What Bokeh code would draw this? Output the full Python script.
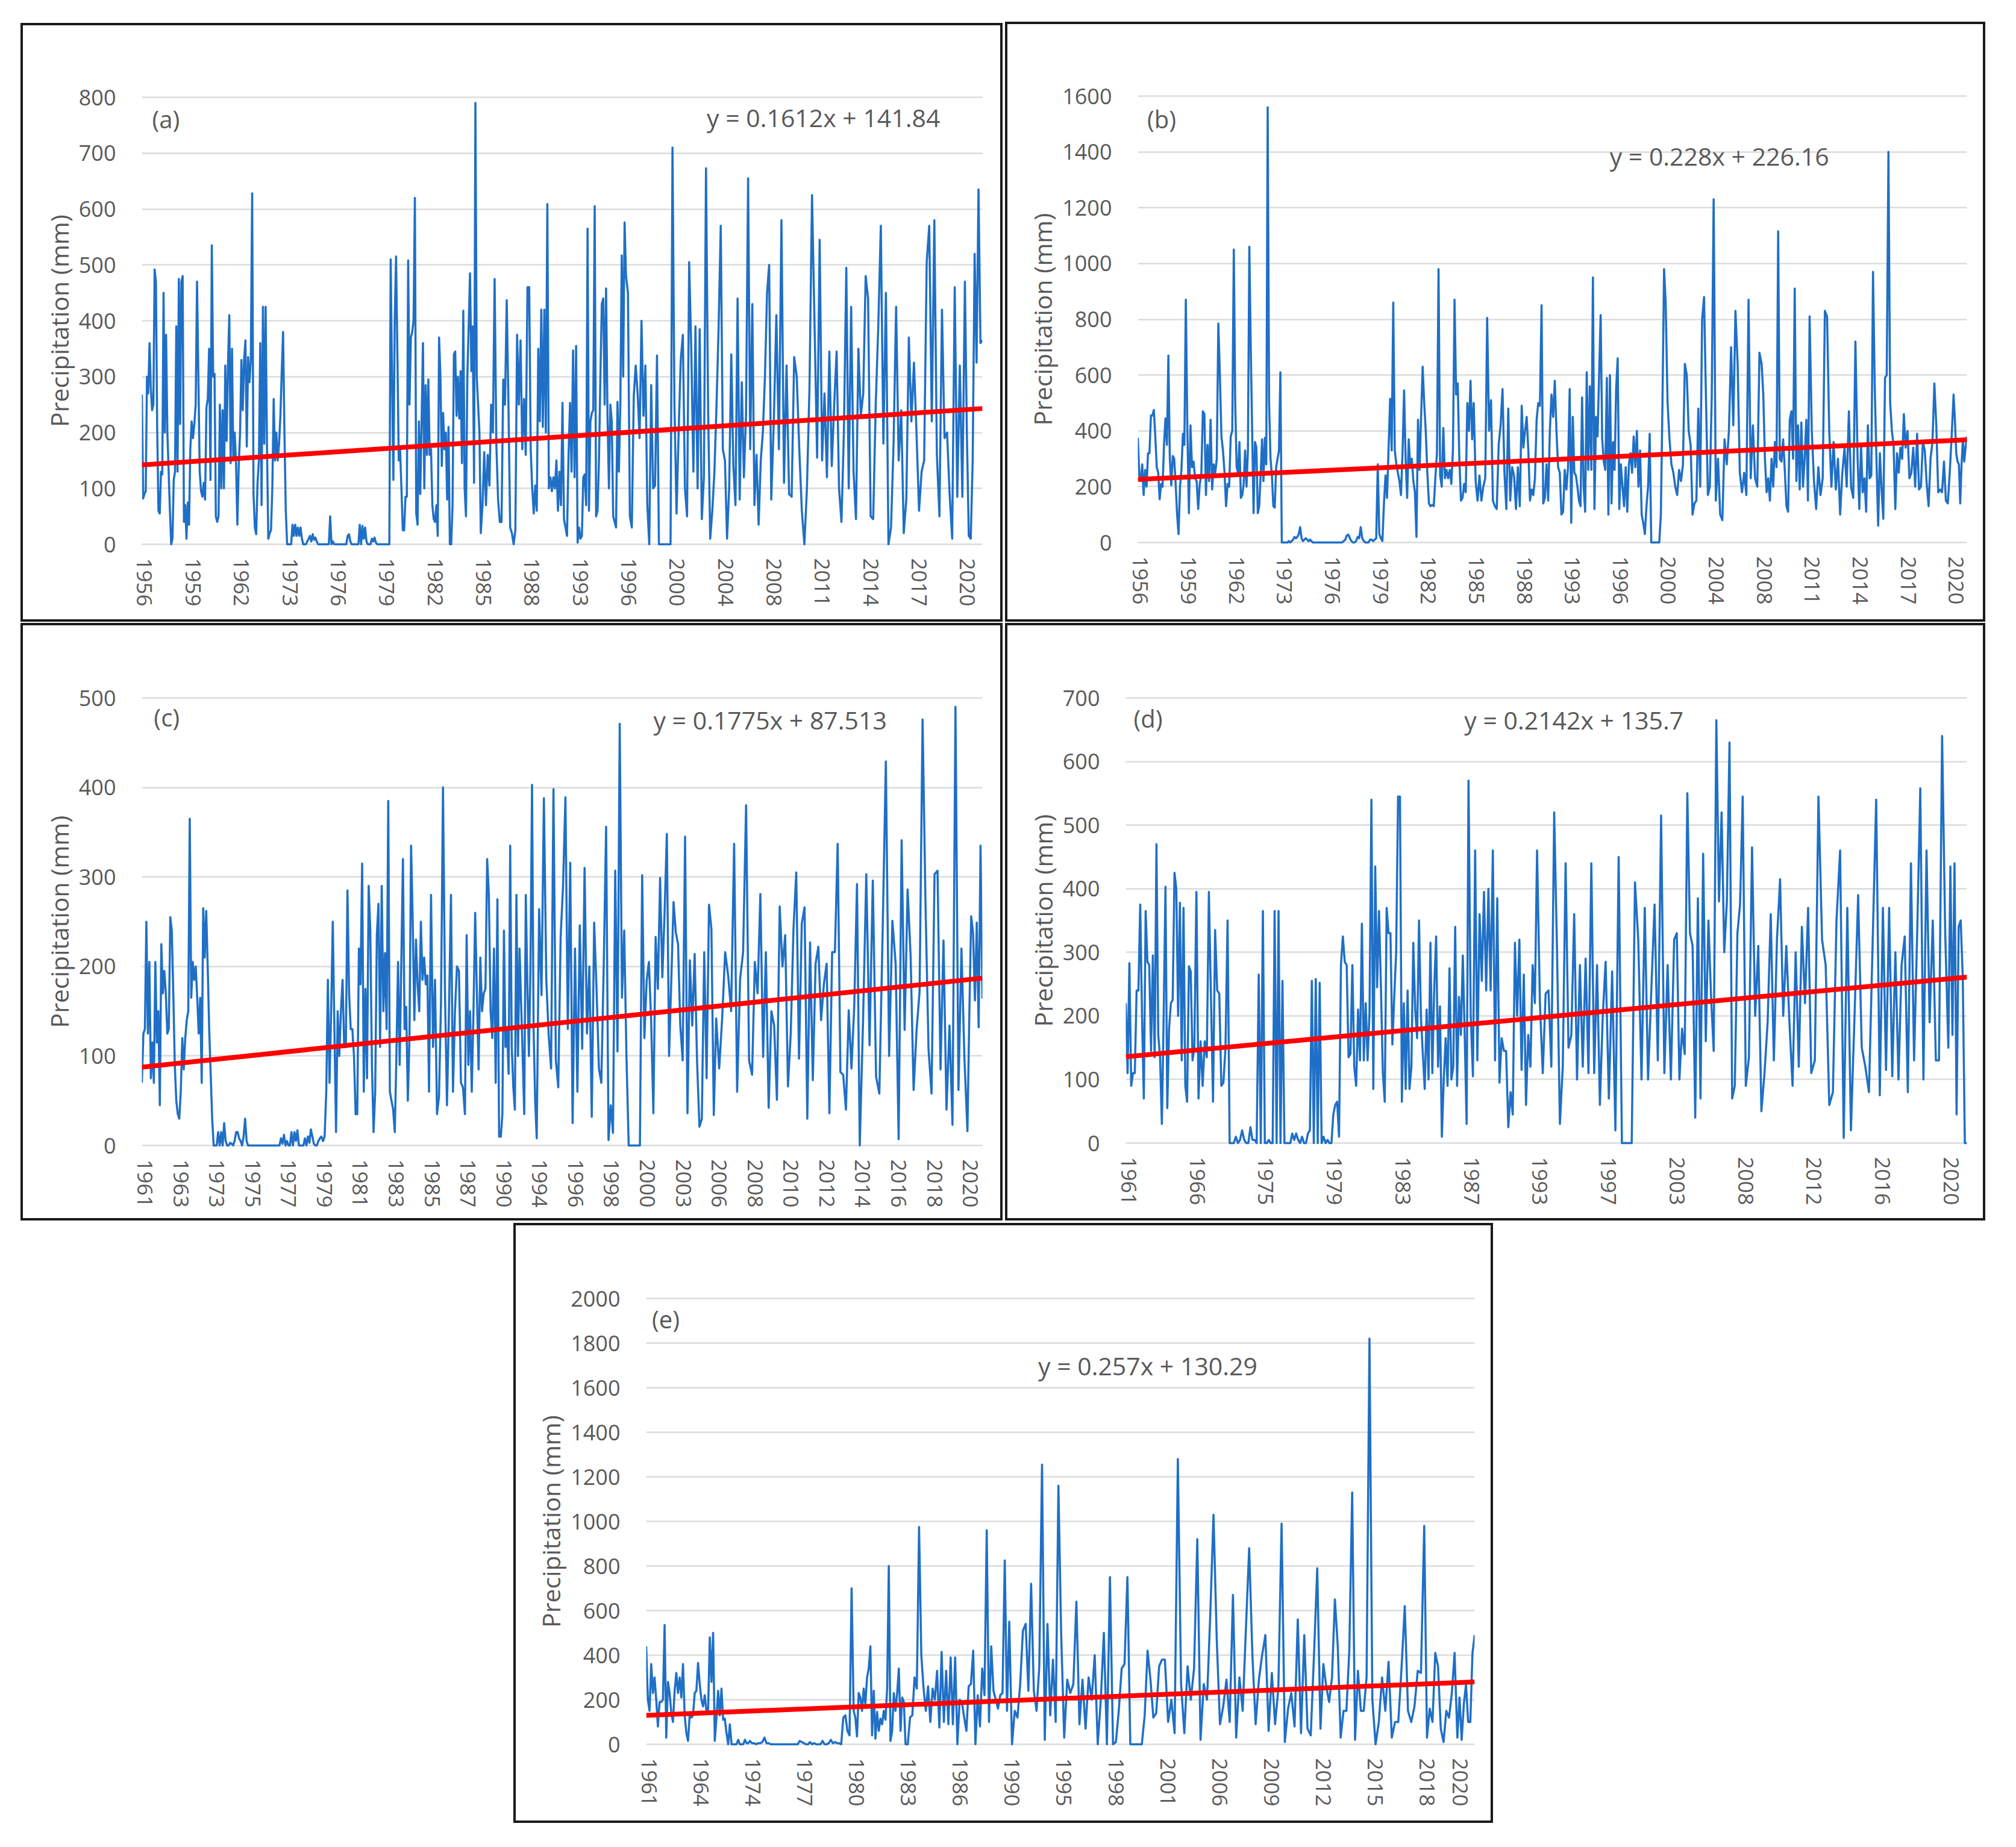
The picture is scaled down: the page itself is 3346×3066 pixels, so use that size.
from bokeh.embed import file_html
from bokeh.layouts import column, row
from bokeh.models import Div, FixedTicker, Label, Range1d
from bokeh.plotting import figure
from bokeh.resources import INLINE

# one inner list per tick interval of the axis, values in mm
a_years = [1956, 1959, 1962, 1973, 1976, 1979, 1982, 1985, 1988, 1993, 1996, 2000, 2004, 2008, 2011, 2014, 2017, 2020]
a_tick_months = [i * 36 for i in range(18)]
a_months = 625
a_trend = [142, 243]
a_precip = [
    [268, 82, 90, 95, 300, 270, 360, 280, 240, 250, 492, 470, 210, 60, 55, 130, 125, 450, 200, 375, 200, 130, 60, 0, 10, 115, 130, 390, 130, 475, 215, 470, 480, 40, 70, 10, 75, 35],
    [170, 220, 190, 215, 250, 470, 300, 130, 95, 85, 110, 80, 245, 260, 350, 115, 535, 300, 305, 50, 40, 50, 250, 100, 240, 100, 320, 185, 320, 410, 145, 350, 150, 200, 145, 35],
    [140, 200, 330, 240, 330, 365, 175, 335, 290, 330, 628, 90, 30, 18, 110, 150, 360, 70, 425, 180, 425, 180, 10, 20, 25, 100, 260, 150, 200, 150, 180, 230, 310, 380, 200, 60],
    [0, 0, 0, 0, 35, 15, 35, 15, 30, 15, 30, 10, 0, 0, 0, 5, 10, 15, 5, 18, 8, 12, 5, 0, 0, 0, 0, 0, 0, 0, 0, 0, 50, 0, 5, 0],
    [0, 0, 0, 0, 0, 0, 0, 0, 0, 15, 18, 5, 0, 0, 0, 0, 0, 0, 35, 0, 33, 10, 30, 5, 0, 0, 0, 10, 5, 12, 3, 0, 0, 0, 0, 0],
    [0, 0, 0, 0, 0, 510, 300, 115, 400, 515, 340, 150, 170, 100, 25, 25, 85, 85, 508, 250, 370, 380, 400, 620, 55, 35, 220, 90, 220, 360, 100, 285, 160, 295, 160, 170],
    [70, 45, 40, 70, 15, 370, 300, 140, 235, 170, 200, 80, 210, 0, 0, 70, 340, 345, 230, 300, 225, 310, 145, 418, 100, 50, 300, 390, 485, 310, 390, 110, 790, 300, 250, 200],
    [20, 70, 165, 70, 160, 105, 250, 200, 475, 180, 80, 40, 40, 295, 250, 437, 250, 30, 20, 0, 25, 375, 250, 365, 170, 260, 160, 460],
    [460, 170, 100, 55, 105, 60, 350, 220, 420, 210, 420, 200, 609, 100, 120, 95, 120, 100, 150, 60, 130, 70, 253, 45, 30, 15, 160, 253, 130, 347, 120, 355],
    [3, 30, 10, 15, 120, 125, 70, 565, 60, 220, 235, 240, 605, 50, 60, 150, 300, 430, 440, 250, 458, 230, 100, 250, 220, 50, 40, 30, 255, 130, 250, 517, 300, 576],
    [480, 450, 50, 30, 265, 320, 270, 190, 400, 230, 320, 70, 0, 285, 100, 105, 338, 0, 0, 0, 0, 0, 0, 0, 710],
    [250, 55, 200, 330, 375, 100, 50, 505, 350, 130, 390, 100, 385, 45, 120, 673, 240, 10, 60, 130, 250, 390, 570],
    [170, 150, 10, 100, 340, 140, 70, 440, 80, 290, 120, 230, 655, 170, 430, 70, 160, 35, 150, 200, 300, 450, 500],
    [80, 220, 410, 170, 580, 110, 320, 90, 85, 335, 300, 170, 60, 0, 100, 280, 625, 390, 155],
    [545, 150, 270, 120, 345, 140, 250, 345, 100, 40, 200, 495, 100, 425, 130, 45, 350, 230, 270, 480],
    [440, 50, 45, 250, 390, 570, 180, 450, 0, 30, 180, 425, 150, 240, 20, 80, 370, 220, 325],
    [200, 60, 130, 150, 505, 570, 220, 580, 160, 50, 420, 190, 200, 90, 10, 460, 85, 320, 85],
    [470, 200, 15, 10, 150, 520, 325, 635, 360, 365],
]

b_years = a_years
b_tick_months = a_tick_months
b_months = 622
b_trend = [226, 368]
b_precip = [
    [375, 240, 220, 280, 170, 260, 200, 320, 320, 455, 455, 475, 380, 270, 250, 155, 210, 200, 350, 445, 350, 670, 300, 205, 310, 300, 210, 100, 30, 200, 260, 390, 350],
    [870, 400, 105, 420, 270, 290, 230, 220, 120, 210, 240, 470, 460, 170, 350, 220, 440, 190, 280, 250, 300, 785, 600, 380, 330, 250, 130, 210, 200, 380, 400],
    [1050, 500, 270, 250, 360, 160, 170, 210, 330, 200, 330, 1060, 700, 400, 105, 360, 340, 105, 130, 240, 370, 220, 375, 280, 1560, 500, 300, 240, 130, 125, 270, 300, 330, 610],
    [0, 0, 0, 0, 0, 5, 0, 5, 10, 20, 15, 20, 30, 55, 15, 5, 10, 15, 10, 5, 10, 5, 0, 0, 0, 0, 0, 0, 0, 0, 0, 0, 0, 0],
    [0, 0, 0, 0, 0, 0, 0, 0, 0, 5, 10, 25, 28, 15, 5, 0, 0, 5, 20, 15, 55, 15, 5, 0, 0, 0, 10, 10, 5, 10, 15],
    [280, 30, 15, 5, 140, 240, 160, 340, 515, 330, 860, 330, 280, 250, 220, 170, 320, 545, 300, 160, 370, 270, 300, 220, 180, 20, 440, 260, 450, 630, 500],
    [400, 250, 140, 130, 135, 130, 230, 320, 980, 240, 200, 410, 230, 260, 230, 260, 210, 330, 870, 530, 570, 300, 150, 160, 210, 180, 500, 400, 580, 370],
    [500, 220, 150, 240, 150, 200, 230, 805, 400, 510, 150, 130, 120, 350, 420, 550, 250, 120, 480, 150, 270, 240, 120, 270, 130],
    [490, 340, 400, 450, 330, 150, 190, 170, 230, 440, 500, 490, 850, 140, 160, 280, 150, 400, 530, 450, 580, 400, 270, 250, 100, 110, 260, 190, 270],
    [550, 70, 450, 250, 240, 200, 150, 130, 520, 200, 110, 610, 260, 560, 260, 950, 120, 450, 380, 600, 815, 370, 290, 260, 590, 100, 600, 140, 360, 260, 550],
    [660, 120, 280, 200, 130, 270, 110, 280, 320, 250, 380, 270, 400, 200, 330, 100, 70, 30, 130, 200, 390, 0, 0, 0, 0, 0, 0, 100, 500, 980],
    [860, 500, 370, 280, 250, 200, 170, 260, 220, 280, 640, 600, 400, 350, 100, 140, 150, 480, 200, 800, 880, 520, 170, 200, 520],
    [1230, 150, 300, 100, 80, 370, 280, 400, 700, 420, 830, 640, 250, 180, 250, 170, 870, 230, 420, 230, 200, 680],
    [640, 530, 300, 180, 230, 150, 300, 200, 360, 270, 1115, 300, 290, 370, 260, 130, 110, 440, 470, 300, 910, 220, 420, 190, 430, 200, 300, 440, 150],
    [810, 400, 220, 120, 270, 170, 230, 830, 810, 400, 200, 360, 190, 300, 100, 250, 340, 200, 470, 200, 160, 720],
    [300, 120, 350, 180, 230, 110, 420, 230, 240, 970, 560, 300, 60, 320, 190, 85, 590, 600, 1400, 500, 400, 350, 120, 320, 250, 340, 300, 460],
    [340, 400, 230, 250, 340, 200, 390, 190, 200, 360, 330, 210, 130, 300, 360, 570, 420, 180, 190, 180, 290, 150, 140, 250, 380],
    [530, 440, 320, 290, 280, 140, 280, 370, 290, 340, 380],
]

c_years = [1961, 1963, 1973, 1975, 1977, 1979, 1981, 1983, 1985, 1987, 1990, 1994, 1996, 1998, 2000, 2003, 2006, 2008, 2010, 2012, 2014, 2016, 2018, 2020]
c_tick_months = [i * 24 for i in range(24)]
c_months = 562
c_trend = [87.5, 187]
c_precip = [
    [70, 125, 130, 250, 125, 205, 75, 115, 70, 205, 115, 150, 45, 225, 170, 195, 170, 125, 130, 255, 240, 170, 90, 50],
    [35, 30, 60, 120, 85, 120, 140, 150, 365, 165, 205, 185, 200, 165, 125, 165, 70, 265, 210, 262, 200, 130, 80, 30],
    [0, 0, 0, 15, 0, 15, 0, 25, 5, 0, 0, 3, 2, 0, 5, 15, 15, 8, 5, 0, 10, 30, 5, 0],
    [0, 0, 0, 0, 0, 0, 0, 0, 0, 0, 0, 0, 0, 0, 0, 0, 0, 0, 0, 0, 0, 8, 2, 12],
    [0, 5, 0, 0, 15, 0, 15, 5, 17, 0, 0, 0, 0, 8, 0, 10, 3, 18, 10, 2, 0, 0, 5, 8],
    [10, 5, 10, 60, 185, 70, 150, 250, 130, 15, 150, 100, 150, 185, 110, 110, 285, 170, 130, 130, 100, 35],
    [35, 220, 180, 315, 60, 175, 75, 290, 240, 90, 15, 60, 235, 270, 110, 290, 150, 215, 130, 385, 60, 50],
    [40, 15, 100, 205, 90, 205, 320, 130, 155, 50, 120, 335, 250, 140, 230, 180, 150, 250, 185, 210, 180, 190],
    [60, 280, 110, 185, 35, 55, 160, 400, 170, 45, 150, 280, 60, 150, 200, 195, 70, 65],
    [35, 235, 90, 150, 60, 150, 260, 170, 85, 210, 150, 170, 175, 320, 280, 150, 120, 220, 70, 275, 10],
    [10, 35, 240, 110, 130, 80, 335, 110, 65, 40, 280, 100, 220, 160, 100, 35, 280, 180, 100, 200, 403, 130, 50],
    [8, 264, 168, 388, 186, 123, 86, 398, 95, 65, 233, 290, 389, 130, 316],
    [25, 220, 60, 246, 108, 310, 125, 200, 32, 249, 175, 86, 70, 200, 356],
    [6, 45, 14, 307, 105, 471, 165, 240, 100, 0, 0, 0, 0, 0, 0, 302],
    [120, 184, 205, 140, 36, 233, 175, 299, 188, 260, 348, 100, 186, 272, 238, 225],
    [134, 95, 345, 36, 207, 134, 214, 95, 21, 30, 216, 75, 269, 242, 34],
    [142, 86, 142, 216, 190, 150, 337, 60, 186, 216, 380, 95],
    [79, 205, 170, 281, 99, 216, 42, 150, 134, 51, 267, 200, 235],
    [66, 125, 242, 305, 97, 248, 266, 30, 227, 73, 203, 222, 140],
    [180, 203, 36, 216, 216, 337, 82, 79, 40, 151, 86, 155, 292],
    [0, 138, 303, 112, 296, 77, 58, 236, 429, 100, 251],
    [203, 7, 341, 129, 286, 212, 62, 129, 172, 476, 266, 107],
    [58, 303, 307, 85, 229, 40, 134, 23, 490, 62, 220, 97],
    [16, 146, 256, 238, 162, 249, 132, 335, 164],
]

d_years = [1961, 1966, 1975, 1979, 1983, 1987, 1993, 1997, 2003, 2008, 2012, 2016, 2020]
d_tick_months = [i * 48 for i in range(13)]
d_months = 589
d_trend = [135.7, 261]
d_precip = [
    [220, 110, 283, 90, 110, 110, 240, 240, 375, 200, 70, 365, 285, 280, 145, 295, 135, 470, 170, 135, 30, 200, 403, 55, 180, 220, 225, 425, 400, 200, 378, 130, 370, 90, 65, 278, 270, 130],
    [150, 395, 70, 160, 90, 160, 135, 395, 230, 65, 335, 240, 235, 90, 95, 150, 350, 0, 0, 0, 10, 0, 5, 20, 5, 0, 0, 25, 5, 5, 0, 265, 0],
    [365, 0, 0, 5, 0, 0, 365, 0, 365, 0, 255, 0, 0, 0, 0, 15, 5, 15, 5, 0, 10, 0, 0, 15, 20, 255, 0, 258, 0, 252, 0, 10, 0, 5, 0],
    [0, 45, 60, 65, 10, 280, 325, 285, 280, 135, 140, 280, 120, 90, 210, 130, 345, 130, 220, 130, 205, 540, 85, 435, 245, 365, 245, 110, 65, 370, 330, 330, 155, 230, 300, 545],
    [545, 65, 220, 85, 240, 85, 120, 315, 210, 165, 350, 200, 140, 85, 210, 100, 315, 110, 245, 325, 120, 215, 10, 100, 165, 90, 275, 100, 120, 340, 90, 230, 170, 295, 170, 30],
    [570, 200, 105, 460, 130, 360, 255, 395, 240, 400, 240, 460, 130, 385, 95, 165, 145, 145, 25, 80, 45, 315, 200, 320, 115, 265, 60, 170, 120, 280, 220],
    [460, 220, 110, 235, 240, 120, 520, 300, 30, 120, 440, 150, 170, 360, 100, 280, 120, 290, 110, 440, 110, 280, 60, 200],
    [285, 70, 270, 20, 450, 0, 0, 0, 0, 410, 320, 100, 370, 100, 240, 375, 130, 515, 110, 280, 100],
    [320, 330, 100, 180, 140, 550, 330, 310, 40, 385, 70, 455, 160, 350, 230, 145, 665, 380, 520, 300, 380, 630, 70, 90, 330, 375],
    [545, 90, 135, 465, 200, 310, 50, 110, 190, 360, 130, 320, 415, 200, 310, 190, 90, 300, 120, 340, 220, 370],
    [110, 130, 545, 320, 280, 60, 80, 350, 460, 8, 370, 20, 200, 390, 150, 120, 80, 310, 540],
    [75, 370, 115, 370, 105, 300, 100, 280, 325, 80, 440, 130, 330, 558, 100, 460, 190, 350, 130, 130, 640, 330],
    [150, 435, 170, 440, 45, 340, 350, 260, 0, 0],
]

e_years = [1961, 1964, 1974, 1977, 1980, 1983, 1986, 1990, 1995, 1998, 2001, 2006, 2009, 2012, 2015, 2018, 2020]
e_tick_months = [0, 36, 72, 108, 144, 180, 216, 252, 288, 324, 360, 396, 432, 468, 504, 540, 563]
e_months = 575
e_trend = [130, 280]
e_precip = [
    [440, 200, 150, 360, 230, 300, 200, 80, 190, 190, 200, 535, 30, 280, 230, 140, 100, 240, 320, 230, 300, 210, 360, 130, 50, 15, 130, 120, 130, 230, 240],
    [365, 270, 200, 170, 220, 150, 150, 480, 280, 500, 15, 120, 240, 130, 250, 110, 115, 50, 0, 90, 0, 0, 0, 0, 20, 0, 0, 0, 20, 5, 5],
    [15, 5, 5, 0, 5, 5, 10, 30, 5, 5, 0, 0, 0, 0, 0, 0, 0, 0, 0, 0, 0, 0, 0, 0, 15],
    [10, 5, 0, 0, 10, 0, 5, 0, 0, 0, 15, 0, 0, 5, 20, 5, 10, 5, 5, 0, 120, 130, 60, 40, 700],
    [150, 120, 35, 230, 210, 150, 250, 180, 300, 340, 440, 40, 240, 25, 145, 60, 115, 90, 150, 110, 250, 800, 15, 60, 230, 150, 230, 340, 60, 210, 190],
    [0, 0, 120, 130, 300, 250, 975, 400, 250, 150, 260, 100, 250, 200, 330, 75, 415, 100, 330, 90, 390, 90, 390],
    [0, 200, 190, 120, 60, 260, 270, 420, 0, 220, 80, 340, 220, 960, 100, 440, 240, 200, 160, 220, 230, 825, 150],
    [550, 0, 150, 120, 270, 510, 540, 240, 720, 240, 150, 350, 1255, 20, 540, 130, 380, 100, 1160],
    [500, 30, 290, 230, 270, 640, 90, 290, 70, 300, 200, 400, 0, 200, 500, 0, 750],
    [0, 10, 150, 340, 360, 750, 0, 0, 0, 0, 0, 130, 420, 290, 120, 140, 350, 380],
    [380, 100, 200, 50, 1280, 270, 50, 350, 200, 340, 920, 20, 270, 200, 580, 1030],
    [470, 90, 170, 290, 100, 670, 30, 300, 150, 520, 880, 400, 90, 290, 400, 490],
    [60, 320, 90, 250, 990, 10, 160, 230, 80, 560, 50, 490, 70, 40, 400, 790],
    [70, 360, 260, 190, 300, 650, 440, 30, 150, 150, 420, 1130, 20, 330, 150, 150, 300, 1820],
    [200, 0, 100, 300, 150, 370, 30, 100, 100, 340, 620, 150, 100, 170, 330, 320],
    [980, 30, 160, 100, 410, 350, 70, 10, 150, 120, 230, 410],
    [30, 210, 20, 180, 270, 100, 100, 410, 490],
]

BLUE = "#1f6fc6"
GREY = "#595959"
FONT = "Open Sans"
PAD = 8


def get_panel(rows, tick_months, years, n_months, trend, y_max, y_step, tag, tag_pos, eq, eq_pos, plot, box, margin):
    plot_l, plot_r, plot_t, plot_b = plot
    box_l, box_t, box_r, box_b = box
    y_pad = y_max * PAD / (plot_b - plot_t)

    p = figure(
        frame_width=plot_r - plot_l,
        frame_height=plot_b - plot_t + 2 * PAD,
        min_border_left=plot_l - box_l,
        min_border_right=box_r - plot_r,
        min_border_top=plot_t - PAD - box_t,
        min_border_bottom=box_b - plot_b - PAD,
        x_range=Range1d(0, n_months),
        y_range=Range1d(-y_pad, y_max + y_pad),
        output_backend="svg",
        toolbar_location=None,
        tools="",
        margin=margin,
    )
    p.outline_line_color = None
    p.xgrid.visible = False
    p.ygrid.grid_line_color = "#dcdcdc"
    p.ygrid.grid_line_width = 2.5

    p.xaxis.ticker = FixedTicker(ticks=[m + 2 for m in tick_months])
    p.xaxis.major_label_overrides = {m + 2: str(y) for m, y in zip(tick_months, years)}
    p.xaxis.major_label_orientation = "vertical"
    p.xaxis.major_label_standoff = 9
    p.xaxis.major_label_text_font_size = "35px"
    p.yaxis.ticker = FixedTicker(ticks=list(range(0, y_max + 1, y_step)))
    p.yaxis.major_label_standoff = 37
    p.yaxis.major_label_text_font_size = "36px"
    p.yaxis.axis_label = "Precipitation (mm)"
    p.yaxis.axis_label_standoff = 2
    p.yaxis.axis_label_text_font = FONT
    p.yaxis.axis_label_text_font_size = "41px"
    p.yaxis.axis_label_text_font_style = "normal"
    p.yaxis.axis_label_text_color = GREY
    for ax in (p.xaxis, p.yaxis):
        ax.axis_line_color = None
        ax.major_tick_line_color = None
        ax.minor_tick_line_color = None
        ax.major_label_text_font = FONT
        ax.major_label_text_color = GREY

    # each tick interval is stretched over its own span of months
    xs, ys = [], []
    ends = tick_months[1:] + [n_months]
    for i, vals in enumerate(rows):
        span = ends[i] - tick_months[i]
        last = i == len(rows) - 1
        step = span / (len(vals) - 1 if last else len(vals))
        xs += [tick_months[i] + j * step for j in range(len(vals))]
        ys += vals
    p.line(xs, ys, line_color=BLUE, line_width=3.5, line_join="round")
    p.line([0, n_months], trend, line_color="#ff0000", line_width=8)

    p.add_layout(Label(x=tag_pos[0], y=tag_pos[1], y_offset=4, text=tag, text_font=FONT, text_font_size="40px",
                       text_color=GREY, text_baseline="middle"))
    p.add_layout(Label(x=eq_pos[0], y=eq_pos[1], y_offset=2, text=eq, text_font=FONT, text_font_size="41px",
                       text_color=GREY, text_baseline="middle"))
    return p


box_a = (34, 38, 1664, 1032)
box_b = (1668, 36, 3295, 1032)
box_c = (34, 1034, 1664, 2026)
box_d = (1668, 1034, 3295, 2026)
box_e = (852, 2030, 2478, 3026)

s_a = get_panel(a_precip, a_tick_months, a_years, a_months, a_trend, 800, 100, "(a)", (7.6, 757),
                "y = 0.1612x + 141.84", (420, 762), (235, 1630, 161, 903), box_a, (38, 4, 2, 34))
s_b = get_panel(b_precip, b_tick_months, b_years, b_months, b_trend, 1600, 200, "(b)", (7, 1509),
                "y = 0.228x + 226.16", (354, 1380), (1888, 3264, 159, 900), box_b, (36, 0, 2, 0))
s_c = get_panel(c_precip, c_tick_months, c_years, c_months, c_trend, 500, 100, "(c)", (8, 476),
                "y = 0.1775x + 87.513", (342, 474), (235, 1630, 1156, 1899), box_c, (0, 4, 4, 34))
s_d = get_panel(d_precip, d_tick_months, d_years, d_months, d_trend, 700, 100, "(d)", (5.5, 664),
                "y = 0.2142x + 135.7", (237, 664), (1868, 3264, 1158, 1897), box_d, (0, 0, 4, 0))
s_e = get_panel(e_precip, e_tick_months, e_years, e_months, e_trend, 2000, 200, "(e)", (4, 1897),
                "y = 0.257x + 130.29", (272, 1692), (1072, 2447, 2155, 2895), box_e, (0, 0, 0, 852))

# panel frames sit on top of the figures, they are plain html boxes
frames = "".join(
    f'<div style="position:fixed;left:{l}px;top:{t}px;width:{r - l}px;height:{b - t}px;'
    f'border:4px solid #1a1a1a;box-sizing:border-box;pointer-events:none;z-index:10"></div>'
    for l, t, r, b in (box_a, box_b, box_c, box_d, box_e)
)

page = column(
    row(s_a, s_b, spacing=0),
    row(s_c, s_d, spacing=0),
    row(s_e, spacing=0),
    Div(text=frames, width=1, height=1, margin=0),
    spacing=0,
)
open("out.html", "w").write(file_html(page, INLINE))
